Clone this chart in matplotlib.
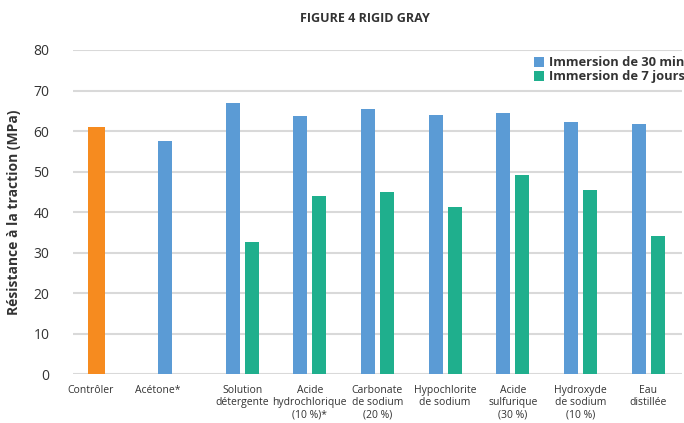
import numpy as np
import matplotlib
matplotlib.use("Agg")
import matplotlib.pyplot as plt

plt.rcParams['font.family'] = ['Open Sans', 'DejaVu Sans']

categories = ["Contrôler", "Acétone*", "Solution\ndétergente", "Acide\nhydrochlorique\n(10 %)*",
              "Carbonate\nde sodium\n(20 %)", "Hypochlorite\nde sodium", "Acide\nsulfurique\n(30 %)",
              "Hydroxyde\nde sodium\n(10 %)", "Eau\ndistillée"]
control_value = [61.0]
immersion_30min = [np.nan, 57.5, 66.9, 63.7, 65.5, 64.0, 64.4, 62.2, 61.8]
immersion_7days = [np.nan, np.nan, 32.6, 44.0, 45.0, 41.2, 49.1, 45.4, 34.0]
yticks = [0, 10, 20, 30, 40, 50, 60, 70, 80]

c_blue = "#5B9BD5"
c_green = "#1FAF8D"
c_orange = "#F68B1F"

fig = plt.figure(figsize=(6.84, 4.23), dpi=100)
ax = fig.add_axes([0.1067, 0.1158, 0.8903, 0.766])

x = np.arange(len(categories))
off = 0.14
w = 0.207
ax.bar(x - off, immersion_30min, width=w, color=c_blue, label="Immersion de 30 min", zorder=3)
ax.bar(x + off, immersion_7days, width=w, color=c_green, label="Immersion de 7 jours", zorder=3)
ax.bar(x[:1] - off - 0.015, control_value, width=0.25, color=c_orange, zorder=3)

# tick position: cluster centre, or the single bar centre if only one bar
green = np.array(immersion_7days, dtype=float)
tickpos = np.where(np.isnan(green), x - off - 0.1, x)
ax.set_xticks(tickpos)
ax.set_xticklabels(categories, fontsize=7.5, color="#333333", linespacing=1.15)
ax.tick_params(axis='x', length=0, pad=8)
ax.set_xlim(-0.5, len(categories) - 0.5)

ax.set_ylim(0, 80)
ax.set_yticks(yticks)
ax.tick_params(axis='y', length=0, labelsize=10, colors="#333333", pad=17)
ax.yaxis.grid(True, color="#d9d9d9", linewidth=1.5, zorder=0)
for s in ax.spines.values():
    s.set_visible(False)

ax.set_ylabel("Résistance à la traction (MPa)", fontsize=10, fontweight='bold', color="#333333", labelpad=9)

fig.text(0.533, 0.956, "FIGURE 4 RIGID GRAY", ha='center', va='center', fontsize=9, fontweight='bold', color="#333333")

leg = ax.legend(loc='upper right', bbox_to_anchor=(1.018, 1.005), frameon=False,
                prop={'weight': 'bold', 'size': 9.3}, handlelength=0.8, handleheight=0.8,
                handletextpad=0.4, labelspacing=0.1, borderaxespad=0.2)
for t in leg.get_texts():
    t.set_color("#333333")

fig.savefig("out.png", dpi=100)
